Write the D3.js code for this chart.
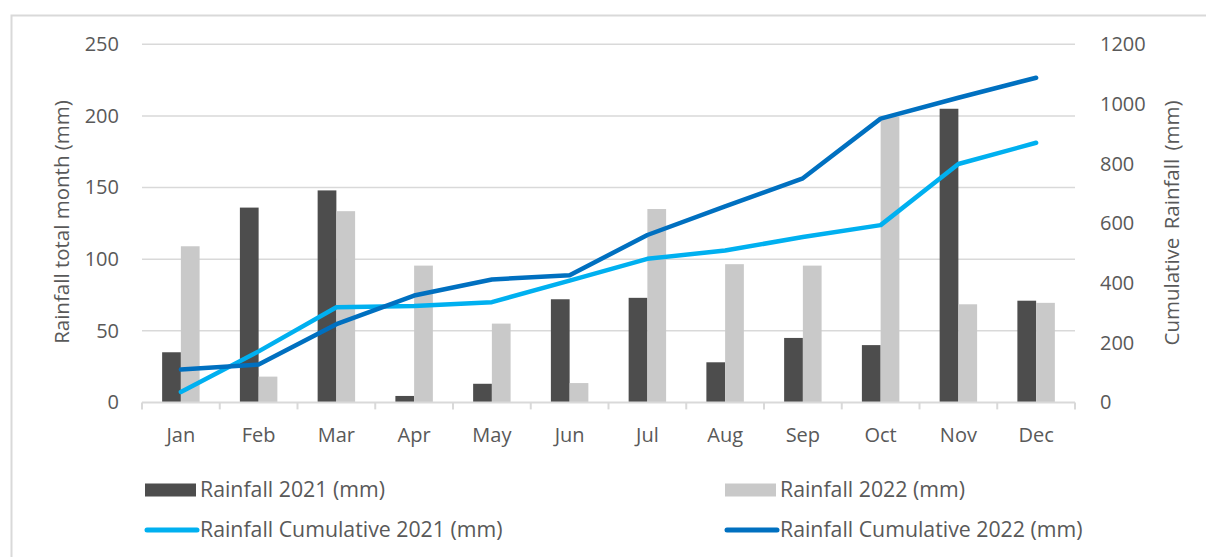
<!DOCTYPE html>
<html>
<head>
<meta charset="utf-8">
<script src="https://cdn.jsdelivr.net/npm/d3@7"></script>
<style>
  html, body { margin: 0; padding: 0; background: #fff; }
  svg { display: block; font-family: "Open Sans", "Noto Sans", sans-serif; }
</style>
</head>
<body>
<svg id="chart" width="1206" height="557"></svg>
<script>
// Monthly and cumulative rainfall, 2021 vs 2022 (mm)
const months = ["Jan","Feb","Mar","Apr","May","Jun","Jul","Aug","Sep","Oct","Nov","Dec"];
const rain2021 = [35, 136, 148, 4.5, 13, 72, 73, 28, 45, 40, 205, 71];
const rain2022 = [109, 18, 133.5, 95.5, 55, 13.5, 135, 96.5, 95.5, 199.5, 68.5, 69.5];
const cum2021 = [35, 171, 319, 323, 336, 408, 481, 509, 554, 594, 799, 870];
const cum2022 = [110, 127, 262, 358, 412, 426, 561, 657, 751, 951, 1021, 1088];
const leftTicks = [0, 50, 100, 150, 200, 250];
const rightTicks = [0, 200, 400, 600, 800, 1000, 1200];

const C = {
  bar21: "#4d4d4d",
  bar22: "#c9c9c9",
  cum21: "#00b0f0",
  cum22: "#0070c0",
  grid: "#d9d9d9",
  text: "#595959"
};

const svg = d3.select("#chart");
const plot = { left: 142, right: 1075, top: 44.3, bottom: 402.4 };

// outer chart frame (runs off the right and bottom edges)
svg.append("path")
  .attr("d", `M11.5,557 V15.5 H1206`)
  .attr("fill", "none")
  .attr("stroke", C.grid)
  .attr("stroke-width", 2);

const x = d3.scaleBand().domain(months)
  .range([plot.left, plot.right])
  .paddingInner(0.518).paddingOuter(0.259);
const xs = d3.scaleBand().domain(["2021", "2022"]).range([0, x.bandwidth()]);
const yL = d3.scaleLinear().domain([0, 250]).range([plot.bottom, plot.top]);
const yR = d3.scaleLinear().domain([0, 1200]).range([plot.bottom, plot.top]);

// horizontal gridlines
svg.append("g").selectAll("line").data(leftTicks.filter(d => d > 0)).join("line")
  .attr("x1", plot.left).attr("x2", plot.right)
  .attr("y1", d => yL(d)).attr("y2", d => yL(d))
  .attr("stroke", C.grid).attr("stroke-width", 1.5);

// left axis labels
const axL = svg.append("g")
  .attr("transform", `translate(${plot.left - 23},0)`)
  .call(d3.axisLeft(yL).tickValues(leftTicks).tickFormat(d3.format("d"))
    .tickSize(0).tickPadding(0));
axL.select(".domain").remove();
axL.selectAll("text").attr("fill", C.text).style("font-size", "20px")
  .style("font-family", "'Open Sans', sans-serif");

// right axis labels
const axR = svg.append("g")
  .attr("transform", `translate(${plot.right + 25},0)`)
  .call(d3.axisRight(yR).tickValues(rightTicks).tickFormat(d3.format("d"))
    .tickSize(0).tickPadding(0));
axR.select(".domain").remove();
axR.selectAll("text").attr("fill", C.text).style("font-size", "20px")
  .style("font-family", "'Open Sans', sans-serif");

// bars
const groups = svg.append("g").selectAll("g").data(months).join("g")
  .attr("transform", d => `translate(${x(d)},0)`);
groups.append("rect")
  .attr("x", xs("2021")).attr("width", xs.bandwidth())
  .attr("y", (d, i) => yL(rain2021[i]))
  .attr("height", (d, i) => yL(0) - yL(rain2021[i]))
  .attr("fill", C.bar21);
groups.append("rect")
  .attr("x", xs("2022")).attr("width", xs.bandwidth())
  .attr("y", (d, i) => yL(rain2022[i]))
  .attr("height", (d, i) => yL(0) - yL(rain2022[i]))
  .attr("fill", C.bar22);

// category axis: baseline with ticks at category boundaries
const axB = svg.append("g")
  .attr("transform", `translate(0,${plot.bottom})`);
axB.append("line")
  .attr("x1", plot.left).attr("x2", plot.right)
  .attr("stroke", C.grid).attr("stroke-width", 2);
const step = x.step();
axB.selectAll("line.tick").data(d3.range(months.length + 1)).join("line")
  .attr("class", "tick")
  .attr("x1", i => plot.left + i * step).attr("x2", i => plot.left + i * step)
  .attr("y1", 0).attr("y2", 7)
  .attr("stroke", C.grid).attr("stroke-width", 2);
axB.selectAll("text").data(months).join("text")
  .attr("x", d => x(d) + x.bandwidth() / 2)
  .attr("y", 40)
  .attr("text-anchor", "middle")
  .attr("fill", C.text).style("font-size", "20px")
  .text(d => d);

// cumulative lines
const line = d3.line()
  .x((d, i) => x(months[i]) + x.bandwidth() / 2)
  .y(d => yR(d));
svg.append("path").datum(cum2021)
  .attr("d", line).attr("fill", "none")
  .attr("stroke", C.cum21).attr("stroke-width", 4.5)
  .attr("stroke-linejoin", "round").attr("stroke-linecap", "round");
svg.append("path").datum(cum2022)
  .attr("d", line).attr("fill", "none")
  .attr("stroke", C.cum22).attr("stroke-width", 4.5)
  .attr("stroke-linejoin", "round").attr("stroke-linecap", "round");

// axis titles
svg.append("text")
  .attr("transform", `translate(69,222) rotate(-90)`)
  .attr("text-anchor", "middle")
  .attr("fill", C.text).style("font-size", "20.5px")
  .text("Rainfall total month (mm)");
svg.append("text")
  .attr("transform", `translate(1179,223) rotate(-90)`)
  .attr("text-anchor", "middle")
  .attr("fill", C.text).style("font-size", "20.5px")
  .style("word-spacing", "3px")
  .text("Cumulative Rainfall (mm)");

// legend
const legend = [
  { label: "Rainfall 2021 (mm)", type: "rect", color: C.bar21, x: 145, y: 490 },
  { label: "Rainfall 2022 (mm)", type: "rect", color: C.bar22, x: 725, y: 490 },
  { label: "Rainfall Cumulative 2021 (mm)", type: "line", color: C.cum21, x: 145, y: 530 },
  { label: "Rainfall Cumulative 2022 (mm)", type: "line", color: C.cum22, x: 725, y: 530 }
];
const lg = svg.append("g").selectAll("g").data(legend).join("g")
  .attr("transform", d => `translate(${d.x},${d.y})`);
lg.filter(d => d.type === "rect").append("rect")
  .attr("x", 0).attr("y", -6.5).attr("width", 51).attr("height", 13)
  .attr("fill", d => d.color);
lg.filter(d => d.type === "line").append("line")
  .attr("x1", 2).attr("x2", 52).attr("y1", 0).attr("y2", 0)
  .attr("stroke", d => d.color).attr("stroke-width", 5)
  .attr("stroke-linecap", "round");
lg.append("text")
  .attr("x", 55).attr("y", 0).attr("dy", "0.35em")
  .attr("fill", C.text).style("font-size", "21.3px")
  .text(d => d.label);
</script>
</body>
</html>
